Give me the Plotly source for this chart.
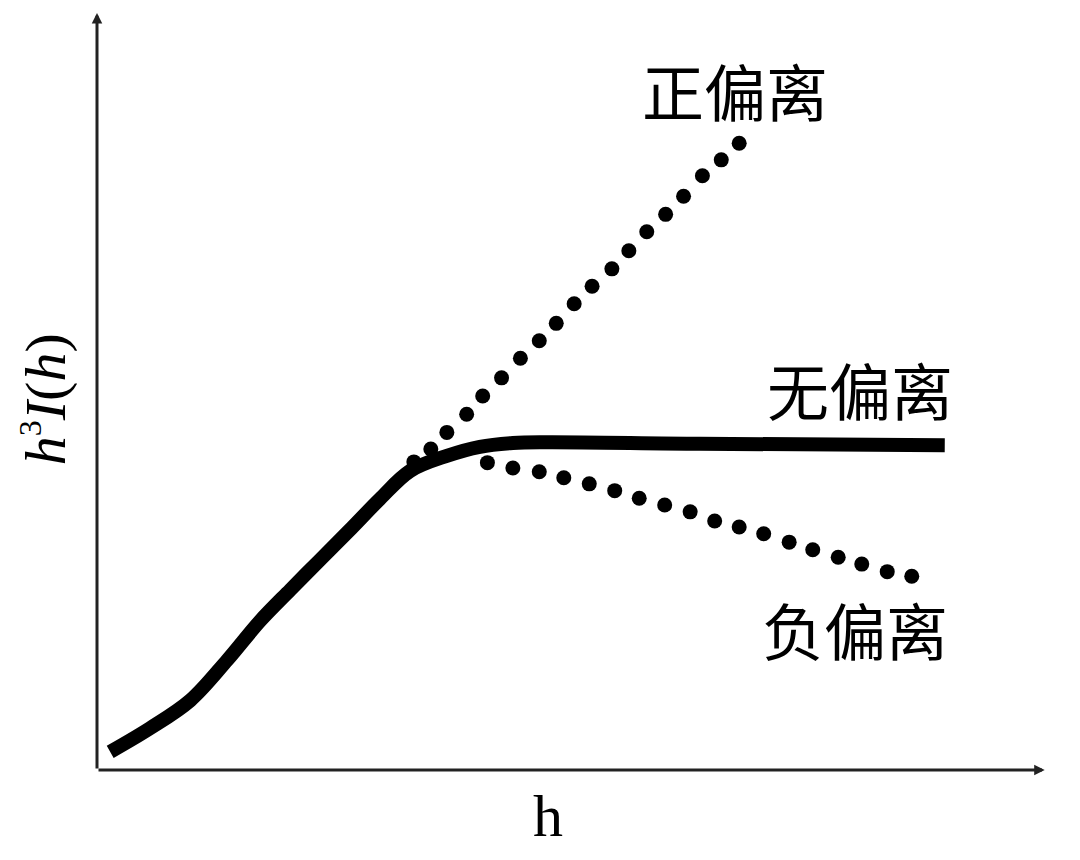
#Import plotly for drawing the h^3 I(h) sketch
import plotly.graph_objects as go

#Solid curve: no deviation
none_x = [1.4, 5.6, 9.9, 13.8, 17.3, 20.5, 23.6, 26.8, 30.0, 33.2, 37.1, 40.6, 44.1, 47.7, 63.9, 89.9]
none_y = [2.4, 5.5, 9.2, 14.5, 19.7, 23.8, 27.7, 31.7, 35.8, 39.5, 41.5, 42.7, 43.2, 43.3, 43.1, 42.9]

#Dotted curve: positive deviation
pos_x = [33.6, 35.4, 37.1, 39.2, 40.9, 42.9, 44.9, 46.9, 48.7, 50.6, 52.5, 54.6, 56.4, 58.3, 60.3, 62.2, 64.2, 66.2, 68.1]
pos_y = [40.7, 42.4, 44.6, 47.0, 49.4, 51.8, 54.4, 56.7, 59.0, 61.6, 63.9, 66.2, 68.6, 71.1, 73.4, 75.8, 78.5, 80.6, 82.8]

#Dotted curve: negative deviation
neg_x = [41.4, 44.1, 46.9, 49.5, 52.2, 54.9, 57.5, 60.2, 62.9, 65.5, 68.1, 70.7, 73.4, 75.9, 78.6, 81.1, 83.8, 86.4]
neg_y = [40.6, 39.9, 39.4, 38.6, 37.8, 36.9, 35.9, 35.0, 34.1, 32.9, 32.1, 31.2, 30.1, 29.1, 28.1, 27.2, 26.2, 25.6]

#Curve labels and where they sit
labels = ['正偏离', '无偏离', '负偏离']
label_x = [67.7, 80.9, 80.4]
label_y = [89.8, 50.3, 18.6]

fig = go.Figure()
fig.add_trace(go.Scatter(x=pos_x, y=pos_y, mode='markers',
                         marker=dict(size=15, color='black'), hoverinfo='skip'))
fig.add_trace(go.Scatter(x=neg_x, y=neg_y, mode='markers',
                         marker=dict(size=15, color='black'), hoverinfo='skip'))
fig.add_trace(go.Scatter(x=none_x, y=none_y, mode='lines',
                         line=dict(color='black', width=14, shape='spline', smoothing=1.0),
                         hoverinfo='skip'))

#Axes drawn as arrows
fig.add_annotation(x=100.5, y=0, ax=0, ay=0, xref='x', yref='y', axref='x', ayref='y',
                   text='', showarrow=True, arrowhead=2, arrowsize=0.7, arrowwidth=3, arrowcolor='#222')
fig.add_annotation(x=0, y=100, ax=0, ay=0, xref='x', yref='y', axref='x', ayref='y',
                   text='', showarrow=True, arrowhead=2, arrowsize=0.7, arrowwidth=3, arrowcolor='#222')

for t, x, y in zip(labels, label_x, label_y):
    fig.add_annotation(x=x, y=y, text=t, showarrow=False,
                       font=dict(family='Noto Sans CJK SC', size=62, color='black'))

#Axis titles
fig.add_annotation(x=-0.055, y=0.49, xref='paper', yref='paper', xanchor='center', yanchor='middle',
                   text='<i>h</i><sup><span style="font-size:32px">3</span></sup><i>I</i>(<i>h</i>)',
                   textangle=-90, showarrow=False,
                   font=dict(family='Liberation Serif', size=58, color='black'))
fig.add_annotation(x=0.478, y=-0.061, xref='paper', yref='paper', xanchor='center', yanchor='middle',
                   text='h', showarrow=False,
                   font=dict(family='Liberation Serif', size=60, color='black'))

fig.update_xaxes(range=[0, 100], visible=False)
fig.update_yaxes(range=[0, 100], visible=False)
fig.update_layout(width=1080, height=860, showlegend=False,
                  plot_bgcolor='white', paper_bgcolor='white',
                  margin=dict(l=89, r=48, t=5, b=98))
fig.write_html('out.html')
